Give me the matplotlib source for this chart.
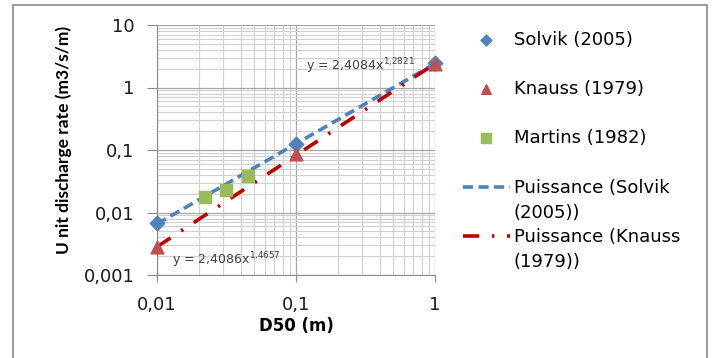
import numpy as np
import matplotlib.pyplot as plt
from matplotlib.lines import Line2D
from matplotlib.ticker import LogLocator, FixedLocator, FixedFormatter, NullFormatter
from matplotlib.patches import Rectangle

plt.rcParams['font.family'] = ['DejaVu Sans']
plt.rcParams['mathtext.fontset'] = 'dejavusans'

# data
solvik_d50 = [0.01, 0.1, 1.0]
solvik_q = [0.0068, 0.125, 2.5]
knauss_d50 = [0.01, 0.1, 1.0]
knauss_q = [0.0028, 0.085, 2.4]
martins_d50 = [0.0223, 0.0316, 0.0449]
martins_q = [0.018, 0.0233, 0.0377]

# power trend lines as printed on the chart
solvik_fit = (2.4084, 1.2821)
knauss_fit = (2.4086, 1.4657)

yticks = [0.001, 0.01, 0.1, 1, 10]
ylabels = ['0,001', '0,01', '0,1', '1', '10']
xticks = [0.01, 0.1, 1]
xlabels = ['0,01', '0,1', '1']

blue = '#4f81bd'
red = '#c0504d'
darkred = '#c00000'
green = '#9bbb59'

fig = plt.figure(figsize=(7.13, 3.58), dpi=100)
fig.patches.append(Rectangle((13 / 713, -0.01), (707 - 13) / 713, 1 - 5 / 358 + 0.01,
                             transform=fig.transFigure, fill=False,
                             edgecolor='#8c8c8c', linewidth=1.2))
ax = fig.add_axes([157 / 713, 1 - 275 / 358, (435 - 157) / 713, (275 - 25) / 358])

ax.set_xscale('log')
ax.set_yscale('log')
ax.set_xlim(0.01, 1)
ax.set_ylim(0.001, 10)

xs = np.logspace(-2, 0, 200)
l1, = ax.plot(xs, solvik_fit[0] * xs ** solvik_fit[1], color=blue, lw=2.6,
              dashes=(2.8, 1.5), zorder=3)
l2, = ax.plot(xs, knauss_fit[0] * xs ** knauss_fit[1], color=darkred, lw=2.6,
              dashes=(4.5, 3.5, 0.7, 3.5), zorder=3)

s1 = ax.scatter(solvik_d50, solvik_q, marker='D', s=55, color=blue, zorder=4, clip_on=False)
s2 = ax.scatter(knauss_d50, knauss_q, marker='^', s=85, color=red, zorder=4, clip_on=False)
s3 = ax.scatter(martins_d50, martins_q, marker='s', s=85, color=green, zorder=4, clip_on=False)

ax.xaxis.set_major_locator(FixedLocator(xticks))
ax.xaxis.set_major_formatter(FixedFormatter(xlabels))
ax.yaxis.set_major_locator(FixedLocator(yticks))
ax.yaxis.set_major_formatter(FixedFormatter(ylabels))
ax.xaxis.set_minor_locator(LogLocator(base=10, subs=np.arange(2, 10)))
ax.yaxis.set_minor_locator(LogLocator(base=10, subs=np.arange(2, 10)))
ax.xaxis.set_minor_formatter(NullFormatter())
ax.yaxis.set_minor_formatter(NullFormatter())

ax.grid(which='major', color='#a6a6a6', lw=0.9)
ax.grid(which='minor', color='#d0d0d0', lw=0.8)
ax.set_axisbelow(True)
for side in ['top', 'right']:
    ax.spines[side].set_visible(False)
for side in ['left', 'bottom']:
    ax.spines[side].set_color('#8c8c8c')
ax.tick_params(which='major', color='#8c8c8c', labelsize=13, labelcolor='#1a1a1a')
ax.tick_params(axis='x', which='major', length=5, pad=10)
ax.tick_params(axis='y', which='major', length=7.2, pad=9)
ax.tick_params(which='minor', length=0)

ax.set_xlabel('D50 (m)', fontsize=12, fontweight='bold')
ax.xaxis.set_label_coords(0.5, -0.168)
ax.set_ylabel('U nit discharge rate (m3/s/m)', fontsize=12.5, fontweight='bold',
              family=['Lato', 'DejaVu Sans'])
ax.yaxis.set_label_coords(-0.306, 0.54)

ax.text(0.718, 2.21, 'y = 2,4084x$^{1{,}2821}$', fontsize=9, color='#404040',
        ha='right', va='center')
ax.text(0.0128, 0.00174, 'y = 2,4086x$^{1{,}4657}$', fontsize=9, color='#404040',
        ha='left', va='center')

leg1 = fig.legend([s1, s2, s3], ['Solvik (2005)', 'Knauss (1979)', 'Martins (1982)'],
                  loc='upper left', bbox_to_anchor=(463 / 713, 1 - 31 / 358), frameon=False,
                  fontsize=13, handlelength=2.6, handletextpad=0.2, labelspacing=1.72,
                  borderpad=0, borderaxespad=0, markerscale=0.75)
blank = Line2D([], [], linestyle='none')
leg2 = fig.legend([l1, blank, l2, blank],
                  ['Puissance (Solvik', '(2005))', 'Puissance (Knauss', '(1979))'],
                  loc='upper left', bbox_to_anchor=(463 / 713, 1 - 179 / 358), frameon=False,
                  fontsize=13, handlelength=2.6, handletextpad=0.2, labelspacing=0.37,
                  borderpad=0, borderaxespad=0)

fig.savefig('out.png', dpi=100)
